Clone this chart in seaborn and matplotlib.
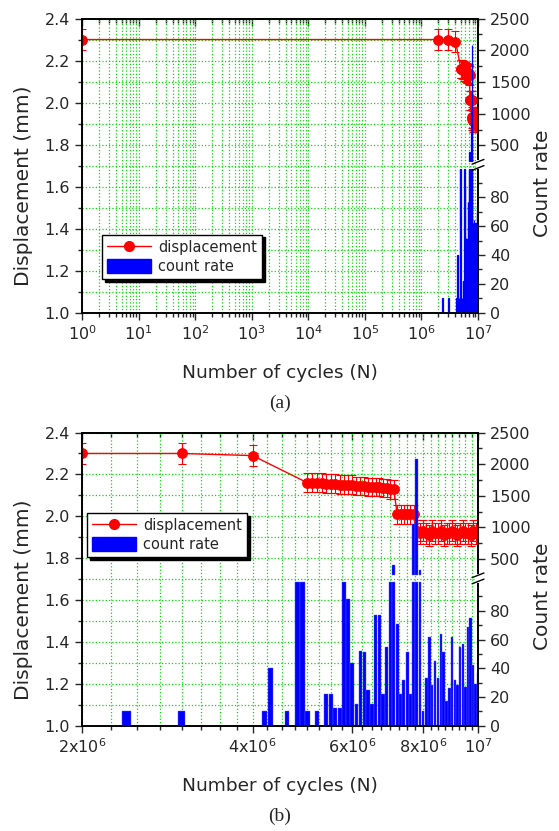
import numpy as np
import matplotlib
matplotlib.use("Agg")
import matplotlib.pyplot as plt
from matplotlib import ticker
from matplotlib.lines import Line2D
from matplotlib.patches import Patch
import seaborn as sns

# displacement vs number of cycles
cycles_disp = [1, 2.0e6, 3.0e6, 4.0e6,
               5.0e6, 5.1e6, 5.2e6, 5.3e6, 5.4e6, 5.5e6, 5.6e6, 5.7e6, 5.8e6, 5.9e6, 6.0e6,
               6.1e6, 6.2e6, 6.3e6, 6.4e6, 6.5e6, 6.6e6, 6.7e6, 6.8e6, 6.9e6, 7.0e6, 7.1e6,
               7.2e6, 7.3e6, 7.4e6, 7.5e6, 7.6e6, 7.7e6,
               7.8e6, 7.9e6, 8.0e6, 8.1e6, 8.2e6, 8.3e6, 8.4e6, 8.5e6, 8.6e6, 8.7e6, 8.8e6,
               8.9e6, 9.0e6, 9.1e6, 9.2e6, 9.3e6, 9.4e6, 9.5e6, 9.6e6, 9.7e6, 9.8e6, 9.9e6, 1.0e7]
displacement = [2.30, 2.30, 2.30, 2.29,
                2.16, 2.16, 2.16, 2.16, 2.155, 2.155, 2.155, 2.15, 2.15, 2.15, 2.15,
                2.145, 2.145, 2.145, 2.14, 2.14, 2.14, 2.14, 2.135, 2.135, 2.13, 2.13,
                2.01, 2.01, 2.01, 2.01, 2.01, 2.01,
                1.93, 1.92, 1.93, 1.92, 1.91, 1.93, 1.92, 1.92, 1.93, 1.91, 1.92,
                1.92, 1.93, 1.92, 1.91, 1.92, 1.93, 1.92, 1.92, 1.91, 1.93, 1.92, 1.93]
displacement_err = [0.05, 0.05, 0.05, 0.05,
                    0.045, 0.045, 0.045, 0.045, 0.045, 0.045, 0.045, 0.045, 0.045, 0.045, 0.045,
                    0.045, 0.045, 0.045, 0.045, 0.045, 0.045, 0.045, 0.045, 0.045, 0.045, 0.045,
                    0.045, 0.045, 0.045, 0.045, 0.045, 0.045,
                    0.05, 0.05, 0.05, 0.05, 0.05, 0.05, 0.05, 0.05, 0.05, 0.05, 0.05,
                    0.05, 0.05, 0.05, 0.05, 0.05, 0.05, 0.05, 0.05, 0.05, 0.05, 0.05, 0.05]

# acoustic emission count rate per 1e5-cycle bin
count_cycles = [2.4e6, 3.0e6, 4.2e6, 4.3e6, 4.6e6, 4.8e6, 4.9e6, 5.0e6, 5.2e6,
                5.4e6, 5.5e6, 5.6e6, 5.7e6, 5.8e6, 5.9e6, 6.0e6,
                6.1e6, 6.2e6, 6.3e6, 6.4e6, 6.5e6, 6.6e6, 6.7e6, 6.8e6, 6.9e6,
                7.0e6, 7.1e6, 7.2e6, 7.3e6, 7.4e6, 7.5e6, 7.6e6, 7.7e6, 7.8e6, 7.9e6,
                8.0e6, 8.1e6, 8.2e6, 8.3e6, 8.4e6, 8.5e6, 8.6e6, 8.7e6, 8.8e6, 8.9e6,
                9.0e6, 9.1e6, 9.2e6, 9.3e6, 9.4e6, 9.5e6, 9.6e6, 9.7e6, 9.8e6, 9.9e6, 1.0e7]
count_rate = [10, 10, 10, 40, 10, 120, 120, 10, 10,
              22, 22, 12, 12, 120, 88, 44,
              15, 52, 51, 25, 15, 77, 77, 22, 55,
              120, 400, 71, 22, 32, 51, 22, 1050, 2085, 320,
              10, 33, 62, 28, 45, 33, 64, 51, 17, 26,
              62, 32, 28, 55, 57, 27, 69, 75, 42, 29, 37]

# broken right axis: 0-100 in the lower half, 250-2500 in the upper part
BREAK_VALS = [0, 100, 250, 2500]
BREAK_POS = [0, 0.49, 0.515, 1.0]
right_ticks = [0, 20, 40, 60, 80, 500, 1000, 1500, 2000, 2500]
right_minor = [10, 30, 50, 70, 90, 750, 1250, 1750, 2250]

sns.set_style("ticks")
plt.rcParams['font.family'] = ['DejaVu Sans']
plt.rcParams['mathtext.fontset'] = 'dejavusans'

RED = '#ff0000'
BLUE = '#0000ff'
GRID = '#00e000'


def fwd(v):
    return np.interp(v, BREAK_VALS, BREAK_POS)


def inv(p):
    return np.interp(p, BREAK_POS, BREAK_VALS)


def draw_panel(ax, xlim, legend_anchor, panel_b=False):
    ax.set_xscale('log')
    sns.lineplot(x=cycles_disp, y=displacement, ax=ax, color=RED, marker='o',
                 markersize=7, markeredgecolor=RED, linewidth=1, zorder=3)
    ax.errorbar(cycles_disp, displacement, yerr=displacement_err, fmt='none',
                ecolor=RED, elinewidth=0.8, capsize=3, capthick=0.8, zorder=3)
    ax.set_xlim(*xlim)
    ax.set_ylim(1.0, 2.4)
    ax.yaxis.set_major_locator(ticker.MultipleLocator(0.2))
    ax.yaxis.set_minor_locator(ticker.MultipleLocator(0.1))
    ax.yaxis.set_major_formatter(ticker.FormatStrFormatter('%.1f'))

    if panel_b:
        major = [2e6, 4e6, 6e6, 8e6, 1e7]
        labels = ['2x10$^{6}$', '4x10$^{6}$', '6x10$^{6}$', '8x10$^{6}$', '10$^{7}$']
        ax.xaxis.set_major_locator(ticker.FixedLocator(major))
        ax.xaxis.set_major_formatter(ticker.FixedFormatter(labels))
        ax.xaxis.set_minor_locator(ticker.MultipleLocator(2.5e5))
        ax.xaxis.set_minor_formatter(ticker.NullFormatter())
    else:
        ax.xaxis.set_major_locator(ticker.LogLocator(base=10, numticks=20))
        ax.xaxis.set_minor_locator(ticker.LogLocator(base=10, subs=np.arange(2, 10), numticks=20))
        ax.xaxis.set_minor_formatter(ticker.NullFormatter())

    ax.grid(True, which='both', color=GRID, linestyle=':', linewidth=0.9)
    ax.tick_params(which='major', direction='out', length=5, width=1, labelsize=11.5,
                   right=False, top=False)
    ax.tick_params(which='minor', direction='out', length=3, width=1, right=False, top=False)
    ax.set_ylabel('Displacement (mm)', fontsize=14.5)
    ax.yaxis.set_label_coords(-0.125, 0.43)
    ax.set_xlabel('')
    for s in ax.spines.values():
        s.set_linewidth(1.2)
        s.set_color('black')

    # top axis: inward ticks, no labels
    top = ax.secondary_xaxis('top')
    if panel_b:
        top.xaxis.set_major_locator(ticker.FixedLocator(major))
        top.xaxis.set_minor_locator(ticker.MultipleLocator(2.5e5))
    else:
        top.xaxis.set_major_locator(ticker.LogLocator(base=10, numticks=20))
        top.xaxis.set_minor_locator(ticker.LogLocator(base=10, subs=np.arange(2, 10), numticks=20))
    top.tick_params(which='both', direction='in', labeltop=False, width=1)
    top.tick_params(which='major', length=5)
    top.tick_params(which='minor', length=3)
    top.spines['top'].set_linewidth(1.2)

    # count rate on broken right axis
    ax2 = ax.twinx()
    ax2.set_yscale('function', functions=(fwd, inv))
    ax2.set_ylim(0, 2500)
    counts = np.array(count_rate, dtype=float)
    cyc = np.array(count_cycles)
    if panel_b:
        bar_kw = dict(width=0.9e5, color=BLUE, edgecolor='#5a5aff', linewidth=0.3, zorder=2)
    else:
        bar_kw = dict(width=0.9e5, color=BLUE, edgecolor=BLUE, linewidth=0.9, zorder=2)
    ax2.bar(cyc, np.minimum(counts, 100), **bar_kw)
    big = counts > BREAK_VALS[2]
    ax2.bar(cyc[big], counts[big] - BREAK_VALS[2], bottom=BREAK_VALS[2], **bar_kw)
    ax2.yaxis.set_major_locator(ticker.FixedLocator(right_ticks))
    ax2.yaxis.set_major_formatter(ticker.FixedFormatter([str(t) for t in right_ticks]))
    ax2.yaxis.set_minor_locator(ticker.FixedLocator(right_minor))
    ax2.yaxis.set_minor_formatter(ticker.NullFormatter())
    ax2.tick_params(which='major', direction='out', length=5, width=1, labelsize=11.5)
    ax2.tick_params(which='minor', direction='out', length=3, width=1)
    ax2.set_ylabel('Count rate', fontsize=14.5)
    ax2.yaxis.set_label_coords(1.14, 0.44)
    ax2.grid(False)
    for s in ax2.spines.values():
        s.set_linewidth(1.2)
        s.set_color('black')
    ax2.set_xlim(*xlim)

    # axis break marks on the right spine
    y0, y1 = BREAK_POS[1], BREAK_POS[2]
    ax2.plot([1, 1], [y0 + 0.004, y1 - 0.004], transform=ax2.transAxes,
             color='white', lw=3, clip_on=False, zorder=10)
    for yb in (y0 + 0.002, y1 - 0.002):
        ax2.plot([0.985, 1.015], [yb - 0.008, yb + 0.008], transform=ax2.transAxes,
                 color='black', lw=1, clip_on=False, zorder=11)

    handles = [Line2D([], [], color=RED, marker='o', markersize=7, lw=1),
               Patch(facecolor=BLUE, edgecolor=BLUE)]
    leg = ax2.legend(handles, ['displacement', 'count rate'], loc='lower left',
                     bbox_to_anchor=legend_anchor, fontsize=10.5, frameon=True,
                     fancybox=False, edgecolor='black', framealpha=1,
                     shadow={'color': 'black', 'alpha': 1.0},
                     handlelength=3.0, handleheight=1.1, borderpad=0.35,
                     labelspacing=0.3, handletextpad=0.5, borderaxespad=0)
    leg.get_frame().set_linewidth(1)
    leg.set_zorder(20)
    return ax2


fig = plt.figure(figsize=(5.59, 8.31), dpi=100)
ax_a = fig.add_axes([0.1467, 0.6237, 0.7084, 0.3540])
ax_b = fig.add_axes([0.1467, 0.1267, 0.7084, 0.3528])

draw_panel(ax_a, (1, 1e7), (0.05, 0.114))
draw_panel(ax_b, (2e6, 1e7), (0.0126, 0.574), panel_b=True)

fig.text(0.501, 1 - 373 / 831, 'Number of cycles (N)', ha='center', va='center', fontsize=13.3)
fig.text(0.501, 1 - 786 / 831, 'Number of cycles (N)', ha='center', va='center', fontsize=13.3)
fig.text(0.501, 1 - 403 / 831, '(a)', ha='center', va='center', fontsize=14,
         family=['Liberation Serif', 'DejaVu Serif'])
fig.text(0.501, 1 - 816 / 831, '(b)', ha='center', va='center', fontsize=14,
         family=['Liberation Serif', 'DejaVu Serif'])

fig.savefig('out.png', dpi=100)
